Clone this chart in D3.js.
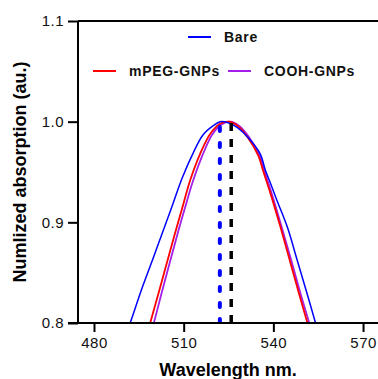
<!DOCTYPE html>
<html>
<head>
<meta charset="utf-8">
<script src="https://cdn.jsdelivr.net/npm/d3@7"></script>
<style>
  html, body { margin: 0; padding: 0; background: #fff; }
  svg { display: block; font-family: Arial, "Liberation Sans", sans-serif; }
</style>
</head>
<body>
<svg id="chart" width="378" height="379"></svg>
<script>
// values
const bareWl  = [489, 492.1, 496, 500, 502.8, 506, 509.5, 513.2, 516.5, 519.9, 522.2, 524.9, 528, 531.6, 535.6, 537.3, 539.0, 541.3, 544.7, 548, 551, 554.1, 556];
const bareAbs = [0.775, 0.800, 0.834, 0.866, 0.889, 0.915, 0.944, 0.969, 0.987, 0.996, 1.000, 0.999, 0.994, 0.984, 0.968, 0.952, 0.939, 0.921, 0.895, 0.862, 0.832, 0.800, 0.780];

const mpegWl  = [497, 498.8, 502, 506.8, 509.5, 512.2, 515.5, 518.9, 522.2, 525.2, 528, 531.5, 535, 536.6, 539, 542.4, 545.5, 548.5, 551.4, 553.5];
const mpegAbs = [0.780, 0.800, 0.834, 0.886, 0.914, 0.942, 0.968, 0.988, 0.998, 1.000, 0.996, 0.984, 0.966, 0.951, 0.929, 0.895, 0.862, 0.830, 0.800, 0.778];

const coohWl  = [498, 500, 503, 507.8, 510.5, 513, 516.2, 519.5, 522.5, 525.6, 528.5, 532, 535.4, 537, 539.4, 542.8, 546, 549, 552, 554];
const coohAbs = [0.780, 0.800, 0.834, 0.887, 0.915, 0.940, 0.966, 0.987, 0.997, 1.000, 0.996, 0.984, 0.966, 0.951, 0.929, 0.895, 0.862, 0.830, 0.800, 0.778];

const peakWl = [522.1, 525.9];
const xTicks = [480, 510, 540, 570];
const yTicks = [0.8, 0.9, 1.0, 1.1];

const svg = d3.select('#chart');
const mLeft = 78, mTop = 21, mRight = 378, mBottom = 323;

const x = d3.scaleLinear().domain([474.65, 575]).range([mLeft, mRight]);
const y = d3.scaleLinear().domain([0.8, 1.1]).range([mBottom, mTop]);

svg.append('defs').append('clipPath').attr('id', 'plot')
  .append('rect').attr('x', mLeft).attr('y', mTop).attr('width', mRight - mLeft + 5).attr('height', mBottom - mTop);

const line = d3.line()
  .x(d => x(d[0]))
  .y(d => y(d[1]))
  .curve(d3.curveCatmullRom);

const series = [
  { wl: coohWl, v: coohAbs, color: '#a31ee8', w: 1.8 },
  { wl: mpegWl, v: mpegAbs, color: '#ff0000', w: 1.8 },
  { wl: bareWl, v: bareAbs, color: '#0000ff', w: 1.5 }
];

const g = svg.append('g').attr('clip-path', 'url(#plot)');
series.forEach(s => {
  g.append('path')
    .datum(d3.zip(s.wl, s.v))
    .attr('d', line)
    .attr('fill', 'none')
    .attr('stroke', s.color)
    .attr('stroke-width', s.w);
});

// peak markers
g.append('line')
  .attr('x1', x(peakWl[0])).attr('x2', x(peakWl[0]))
  .attr('y1', y(0.8)).attr('y2', y(1.0))
  .attr('stroke', '#0000ff').attr('stroke-width', 4)
  .attr('stroke-linecap', 'round')
  .attr('stroke-dasharray', '4,12');
g.append('line')
  .attr('x1', x(peakWl[1])).attr('x2', x(peakWl[1]))
  .attr('y1', y(0.8)).attr('y2', y(1.0))
  .attr('stroke', '#000').attr('stroke-width', 3.5)
  .attr('stroke-dasharray', '8,8');

// frame
svg.append('line').attr('x1', mLeft).attr('x2', mRight + 5).attr('y1', mTop).attr('y2', mTop)
  .attr('stroke', '#000').attr('stroke-width', 2);

// axes
const xAxis = svg.append('g')
  .attr('transform', `translate(0,${mBottom})`)
  .call(d3.axisBottom(x).tickValues(xTicks).tickSize(9).tickPadding(5));
const yAxis = svg.append('g')
  .attr('transform', `translate(${mLeft},0)`)
  .call(d3.axisLeft(y).tickValues(yTicks).tickFormat(d3.format('.1f')).tickSize(10).tickPadding(4));

[xAxis, yAxis].forEach(a => {
  a.select('.domain').attr('stroke', '#000').attr('stroke-width', 2);
  a.selectAll('.tick line').attr('stroke', '#000').attr('stroke-width', 2);
  a.selectAll('.tick text')
    .attr('fill', '#111')
    .style('font-family', 'Arial, "Liberation Sans", sans-serif')
    .style('font-size', '15px')
    .style('letter-spacing', '0.5px');
});
xAxis.select('.domain').attr('d', `M${mLeft - 10},0H${mRight + 5}`);
yAxis.select('.domain').attr('d', `M0,${mBottom}V${mTop}`);

// titles
svg.append('text')
  .attr('x', (mLeft + mRight) / 2).attr('y', 376)
  .attr('text-anchor', 'middle')
  .style('font-size', '18px').style('font-weight', 'bold')
  .text('Wavelength nm.');
svg.append('text')
  .attr('transform', `translate(26,${(mTop + mBottom) / 2}) rotate(-90)`)
  .attr('text-anchor', 'middle')
  .style('font-size', '18px').style('font-weight', 'bold')
  .text('Numlized absorption (au.)');

// legend
const legend = [
  { label: 'Bare', color: '#0000ff', lx: 188, ly: 37 },
  { label: 'mPEG-GNPs', color: '#ff0000', lx: 93, ly: 71 },
  { label: 'COOH-GNPs', color: '#a31ee8', lx: 228, ly: 71 }
];
legend.forEach(l => {
  svg.append('line')
    .attr('x1', l.lx).attr('x2', l.lx + 23)
    .attr('y1', l.ly).attr('y2', l.ly)
    .attr('stroke', l.color).attr('stroke-width', 2);
  svg.append('text')
    .attr('x', l.lx + 36).attr('y', l.ly + 5)
    .style('font-size', '14px').style('font-weight', 'bold')
    .style('letter-spacing', '0.7px')
    .attr('fill', '#111')
    .text(l.label);
});
</script>
</body>
</html>
